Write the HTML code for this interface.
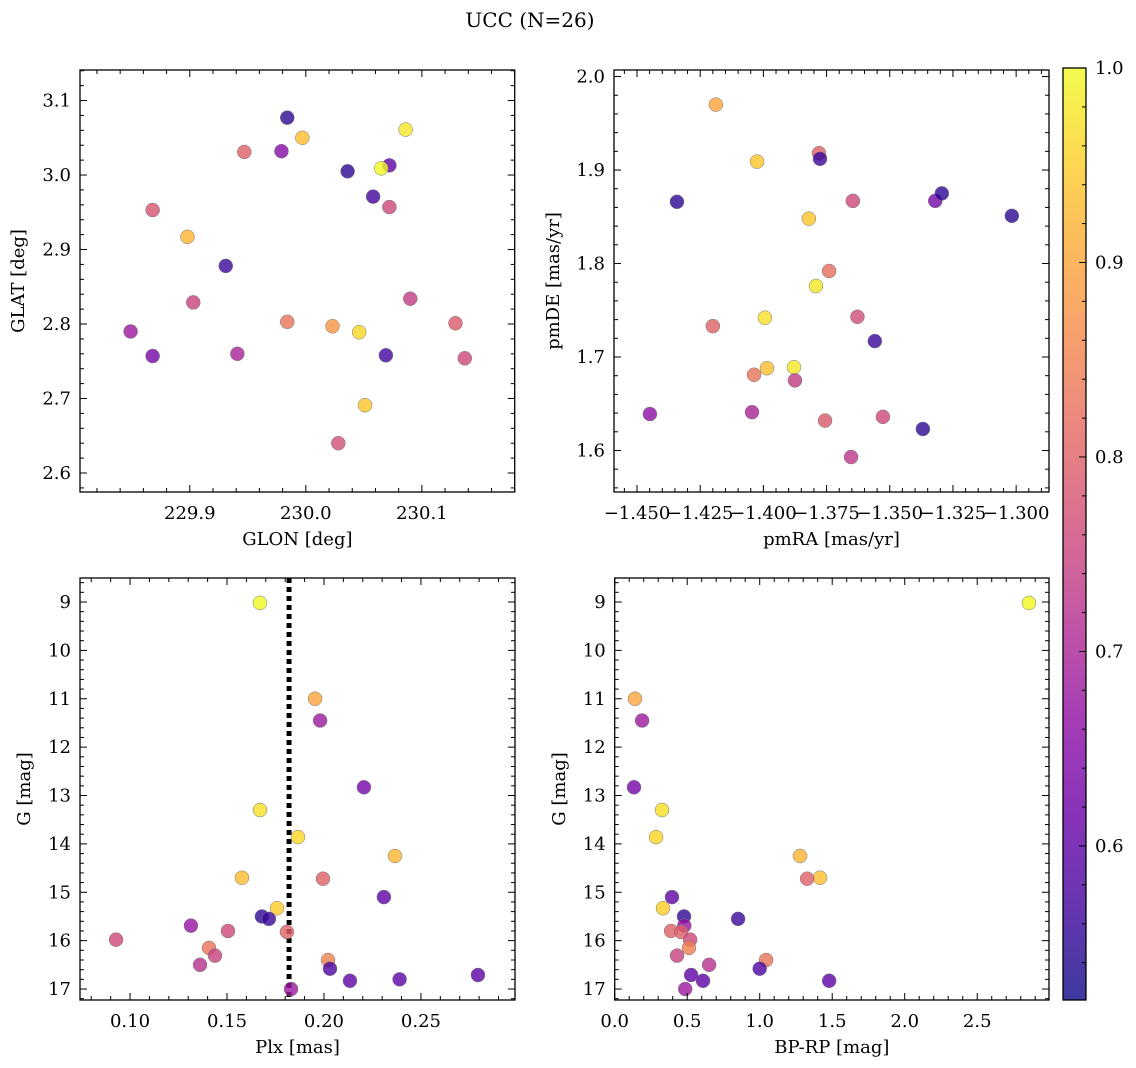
<!DOCTYPE html>
<html><head><meta charset="utf-8"><style>
html,body{margin:0;padding:0;background:#fff}
svg{display:block;font-family:"DejaVu Serif","Liberation Serif",serif}
</style></head><body>
<svg id="fig" width="1136" height="1068" viewBox="0 0 1136 1068" xmlns="http://www.w3.org/2000/svg">
<text x="530" y="27" font-size="20" text-anchor="middle">UCC (N=26)</text>
</svg>
<script>
// Panel 1: GLON vs GLAT
const p1Glon=[229.984,229.997,229.979,229.947,230.086,230.036,230.072,230.065,230.058,230.072,229.868,229.898,229.931,229.903,230.090,229.984,230.023,230.046,230.129,229.849,229.868,229.941,230.069,230.137,230.051,230.028];
const p1Glat=[3.077,3.050,3.032,3.031,3.061,3.005,3.013,3.009,2.971,2.957,2.953,2.917,2.878,2.829,2.834,2.803,2.797,2.789,2.801,2.790,2.757,2.760,2.758,2.754,2.691,2.640];
const p1Prob=[0.55,0.93,0.65,0.80,0.98,0.55,0.60,1.00,0.57,0.76,0.78,0.92,0.56,0.75,0.74,0.83,0.88,0.96,0.79,0.68,0.63,0.70,0.57,0.76,0.94,0.77];
// Panel 2: pmRA vs pmDE
const p2Pmra=[-1.4188,-1.4025,-1.378,-1.3776,-1.4342,-1.3646,-1.332,-1.3294,-1.3017,-1.382,-1.374,-1.3792,-1.3994,-1.3628,-1.420,-1.3559,-1.3986,-1.3879,-1.4037,-1.3875,-1.4449,-1.4045,-1.3756,-1.3527,-1.3369,-1.3653];
const p2Pmde=[1.970,1.909,1.918,1.912,1.866,1.867,1.867,1.875,1.851,1.848,1.792,1.776,1.742,1.743,1.733,1.717,1.688,1.689,1.681,1.675,1.639,1.641,1.632,1.636,1.623,1.593];
const p2Prob=[0.90,0.94,0.80,0.56,0.55,0.76,0.63,0.55,0.55,0.94,0.82,0.98,0.97,0.77,0.80,0.56,0.93,0.98,0.83,0.74,0.66,0.70,0.79,0.76,0.55,0.73];
// Panel 3: Plx vs G
const p3Plx=[0.167,0.1954,0.198,0.2206,0.167,0.1866,0.2366,0.1577,0.1995,0.2309,0.1758,0.168,0.1716,0.1314,0.1505,0.1809,0.0928,0.1407,0.1438,0.2021,0.1361,0.2031,0.2794,0.2134,0.239,0.183];
const p3G=[9.02,11.0,11.45,12.83,13.3,13.86,14.25,14.70,14.72,15.1,15.33,15.5,15.55,15.69,15.8,15.82,15.98,16.15,16.31,16.4,16.5,16.58,16.71,16.83,16.8,17.0];
const p3Prob=[1.0,0.90,0.68,0.63,0.97,0.96,0.92,0.93,0.80,0.60,0.95,0.55,0.56,0.67,0.76,0.80,0.76,0.83,0.75,0.85,0.72,0.58,0.60,0.60,0.60,0.68];
const plxLine=0.182;
// Panel 4: BP-RP vs G
const p4Bprp=[2.857,0.14,0.189,0.133,0.326,0.285,1.278,1.416,1.327,0.395,0.333,0.478,0.851,0.48,0.389,0.458,0.52,0.512,0.43,1.044,0.651,1.0,0.527,0.609,1.479,0.486];
const p4G=[9.02,11.0,11.45,12.83,13.3,13.86,14.25,14.70,14.72,15.1,15.33,15.5,15.55,15.69,15.8,15.82,15.98,16.15,16.31,16.4,16.5,16.58,16.71,16.83,16.83,17.0];
const p4Prob=[1.0,0.90,0.68,0.63,0.97,0.96,0.92,0.93,0.80,0.60,0.95,0.55,0.56,0.67,0.80,0.80,0.76,0.85,0.75,0.83,0.72,0.58,0.60,0.60,0.60,0.68];
// Colorbar
const cbMin=0.5208, cbMax=1.0;
const cbTicks=[0.6,0.7,0.8,0.9,1.0];

const NS='http://www.w3.org/2000/svg';
const svg=document.getElementById('fig');
function mk(tag,attrs,parent){const e=document.createElementNS(NS,tag);for(const k in attrs)e.setAttribute(k,attrs[k]);(parent||svg).appendChild(e);return e;}
const stops=[[13,8,135],[65,4,157],[106,0,168],[143,13,164],[177,42,144],[204,71,120],[225,100,98],[242,132,75],[252,166,54],[252,206,37],[240,249,33]];
function plasma(t){t=Math.max(0,Math.min(1,t));const f=t*10,i=Math.min(9,Math.floor(f)),r=f-i;const a=stops[i],b=stops[i+1];return 'rgb('+a.map((v,k)=>Math.round(v+(b[k]-v)*r)).join(',')+')';}
function cmap(v){return plasma((v-cbMin)/(cbMax-cbMin));}
function fmt(v,d){let s=v.toFixed(d);if(v<0)s='\u2212'+s.slice(1);return s;}
const FS=18;

function panel(o){
  const {name,x0,x1,y0,y1,xmin,xmax,ymin,ymax,inv}=o;
  const sx=v=>x0+(v-xmin)/(xmax-xmin)*(x1-x0);
  const sy=inv?(v=>y0+(v-ymin)/(ymax-ymin)*(y1-y0)):(v=>y1-(v-ymin)/(ymax-ymin)*(y1-y0));
  const g=mk('g',{});
  
  
  if(o.extra)o.extra(g,sx,sy);
  for(let i=0;i<o.xs.length;i++){
    const c=mk('circle',{cx:sx(o.xs[i]),cy:sy(o.ys[i]),r:7,fill:cmap(o.cs[i]),'fill-opacity':0.8,stroke:'#777','stroke-width':0.5},g);
    
    
  }
  const fr=mk('rect',{x:x0,y:y0,width:x1-x0,height:y1-y0,fill:'none',stroke:'#000','stroke-width':1.3},g);
  
  
  const eps=1e-9;
  for(let v=Math.ceil(xmin/o.xminor-eps)*o.xminor;v<=xmax+eps;v+=o.xminor){
    const x=sx(v);const maj=Math.abs(v/o.xmajor-Math.round(v/o.xmajor))<1e-4;const L=maj?7:4;
    mk('line',{x1:x,x2:x,y1:y1,y2:y1-L,stroke:'#000','stroke-width':1},g);
    mk('line',{x1:x,x2:x,y1:y0,y2:y0+L,stroke:'#000','stroke-width':1},g);
  }
  o.xlabels.forEach(v=>{const t=mk('text',{x:sx(v),y:y1+27,'font-size':FS,'text-anchor':'middle'},g);t.textContent=fmt(v,o.xd);
    });
  for(let v=Math.ceil(ymin/o.yminor-eps)*o.yminor;v<=ymax+eps;v+=o.yminor){
    const y=sy(v);const maj=Math.abs(v/o.ymajor-Math.round(v/o.ymajor))<1e-4;const L=maj?7:4;
    mk('line',{x1:x0,x2:x0+L,y1:y,y2:y,stroke:'#000','stroke-width':1},g);
    mk('line',{x1:x1,x2:x1-L,y1:y,y2:y,stroke:'#000','stroke-width':1},g);
  }
  o.ylabels.forEach(v=>{const t=mk('text',{x:x0-9,y:sy(v)+6,'font-size':FS,'text-anchor':'end'},g);t.textContent=fmt(v,o.yd);
    });
  const xt=mk('text',{x:(x0+x1)/2,y:y1+53,'font-size':FS,'text-anchor':'middle'},g);xt.textContent=o.xtitle;
  
  const cy=(y0+y1)/2,cx=o.ytx;
  const yt=mk('text',{x:cx,y:cy,'font-size':FS,'text-anchor':'middle',transform:'rotate(-90 '+cx+' '+cy+')'},g);yt.textContent=o.ytitle;
  
}
panel({name:'glon-glat-panel',x0:80,x1:514.7,y0:70,y1:492,xmin:229.8054,xmax:230.18,ymin:2.5745,ymax:3.141,
  xs:p1Glon,ys:p1Glat,cs:p1Prob,xminor:0.02,xmajor:0.1,yminor:0.02,ymajor:0.1,xlabels:[229.9,230.0,230.1],xd:1,ylabels:[2.6,2.7,2.8,2.9,3.0,3.1],yd:1,
  xtitle:'GLON [deg]',ytitle:'GLAT [deg]',ytx:24});
panel({name:'proper-motion-panel',x0:614,x1:1049,y0:70,y1:492,xmin:-1.4591,xmax:-1.287,ymin:1.5556,ymax:2.007,
  xs:p2Pmra,ys:p2Pmde,cs:p2Prob,xminor:0.005,xmajor:0.025,yminor:0.02,ymajor:0.1,xlabels:[-1.45,-1.425,-1.4,-1.375,-1.35,-1.325,-1.3],xd:3,ylabels:[1.6,1.7,1.8,1.9,2.0],yd:1,
  xtitle:'pmRA [mas/yr]',ytitle:'pmDE [mas/yr]',ytx:559});
panel({name:'plx-g-panel',x0:80,x1:515,y0:578,y1:1000,xmin:0.0742,xmax:0.2985,ymin:8.504,ymax:17.227,inv:true,
  xs:p3Plx,ys:p3G,cs:p3Prob,xminor:0.01,xmajor:0.05,yminor:0.2,ymajor:1,xlabels:[0.10,0.15,0.20,0.25],xd:2,ylabels:[9,10,11,12,13,14,15,16,17],yd:0,
  xtitle:'Plx [mas]',ytitle:'G [mag]',ytx:30,
  extra:(g,sx)=>{const l=mk('line',{x1:sx(plxLine),x2:sx(plxLine),y1:578,y2:1000,stroke:'#000','stroke-width':5,'stroke-dasharray':'5 4'},g);
    }});
panel({name:'cmd-panel',x0:614.7,x1:1049,y0:578,y1:1000,xmin:0,xmax:2.995,ymin:8.504,ymax:17.227,inv:true,
  xs:p4Bprp,ys:p4G,cs:p4Prob,xminor:0.1,xmajor:0.5,yminor:0.2,ymajor:1,xlabels:[0,0.5,1.0,1.5,2.0,2.5],xd:1,ylabels:[9,10,11,12,13,14,15,16,17],yd:0,
  xtitle:'BP-RP [mag]',ytitle:'G [mag]',ytx:565});
(function(){
  const x0=1063,x1=1086,y0=68,y1=1000;
  const g=mk('g',{});
  
  
  const defs=mk('defs',{},g);
  const lg=mk('linearGradient',{id:'cbg',x1:0,y1:1,x2:0,y2:0},defs);
  for(let i=0;i<=20;i++){mk('stop',{offset:i/20,'stop-color':plasma(i/20)},lg);}
  mk('rect',{x:x0,y:y0,width:x1-x0,height:y1-y0,fill:'url(#cbg)','fill-opacity':0.8},g);
  mk('rect',{x:x0,y:y0,width:x1-x0,height:y1-y0,fill:'none',stroke:'#000','stroke-width':1.3},g);
  const sy=v=>y1-(v-cbMin)/(cbMax-cbMin)*(y1-y0);
  for(let v=0.54;v<=1.0001;v+=0.02){const y=sy(v);const maj=Math.abs(v*10-Math.round(v*10))<1e-3;
    mk('line',{x1:x1,x2:x1-(maj?7:4),y1:y,y2:y,stroke:'#000','stroke-width':1},g);}
  cbTicks.forEach(v=>{const t=mk('text',{x:x1+9,y:sy(v)+6,'font-size':FS},g);t.textContent=v.toFixed(1);
    });
})();
</script>
</body></html>
